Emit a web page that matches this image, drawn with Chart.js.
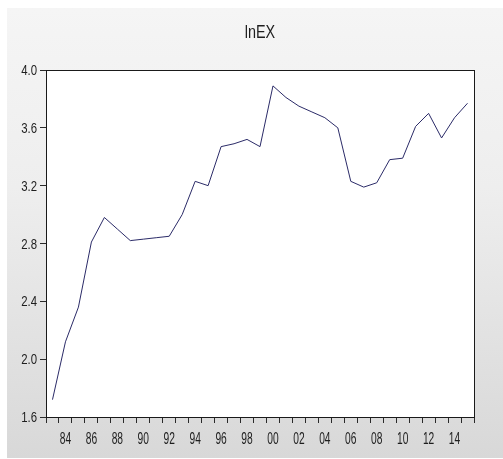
<!DOCTYPE html>
<html>
<head>
<meta charset="utf-8">
<script src="https://cdn.jsdelivr.net/npm/chart.js@4.4.1/dist/chart.umd.min.js"></script>
<style>
  html, body { margin: 0; padding: 0; background: #ffffff; }
  #panel {
    position: absolute; left: 7px; top: 8px; width: 496px; height: 450px;
    background: linear-gradient(to bottom, #f5f5f5 0%, #eeeeee 40%, #d8d8d8 100%);
  }
  #wrap { position: absolute; left: 0; top: 0; width: 503px; height: 459px; }
</style>
</head>
<body>
<div id="panel"></div>
<div id="wrap"><canvas id="c" width="503" height="459"></canvas></div>
<script>
// Annual observations, 1983-2015
const years = [1983,1984,1985,1986,1987,1988,1989,1990,1991,1992,1993,1994,1995,1996,1997,1998,1999,
               2000,2001,2002,2003,2004,2005,2006,2007,2008,2009,2010,2011,2012,2013,2014,2015];
const lnEX = [1.72,2.12,2.36,2.81,2.98,2.90,2.82,2.83,2.84,2.85,3.00,3.23,3.20,3.47,3.49,3.52,3.47,
              3.89,3.81,3.75,3.71,3.67,3.60,3.23,3.19,3.22,3.38,3.39,3.61,3.70,3.53,3.67,3.77];
const yTicks = [1.6, 2.0, 2.4, 2.8, 3.2, 3.6, 4.0];
const titleText = 'lnEX';

const FAMILY = '"Liberation Sans", Arial, sans-serif';
const TEXT_COLOR = '#1e1e1e';

// two-digit year label for even years, blank otherwise
function yearLabel(i) {
  const yr = years[i];
  return yr % 2 === 0 ? String(yr).slice(2) : '';
}

// white plot area, black frame, narrow title and tick labels placed from the scales
const framePlugin = {
  id: 'frame',
  beforeDraw(chart) {
    const { ctx, chartArea: a } = chart;
    ctx.save();
    ctx.fillStyle = '#ffffff';
    ctx.fillRect(a.left, a.top, a.right - a.left, a.bottom - a.top);
    ctx.restore();
  },
  afterDraw(chart) {
    const { ctx, chartArea: a, scales } = chart;
    ctx.save();
    ctx.strokeStyle = '#1a1a1a';
    ctx.lineWidth = 1;
    ctx.strokeRect(Math.round(a.left) + 0.5, Math.round(a.top) + 0.5,
                   Math.round(a.right - a.left), Math.round(a.bottom - a.top));

    ctx.fillStyle = TEXT_COLOR;

    // title
    ctx.font = '18px ' + FAMILY;
    ctx.textAlign = 'center';
    ctx.textBaseline = 'middle';
    const tw = ctx.measureText(titleText).width;
    ctx.fillText(titleText, (a.left + a.right) / 2, 33, tw * 0.8);

    // x tick labels
    ctx.font = '16px ' + FAMILY;
    const xs = scales.x;
    years.forEach((yr, i) => {
      const t = yearLabel(i);
      if (!t) return;
      const w = ctx.measureText(t).width;
      ctx.fillText(t, xs.getPixelForValue(i), 440, w * 0.64);
    });

    // y tick labels
    ctx.font = '15px ' + FAMILY;
    ctx.textAlign = 'right';
    const ys = scales.y;
    yTicks.forEach(v => {
      const t = v.toFixed(1);
      const w = ctx.measureText(t).width;
      ctx.fillText(t, 37, ys.getPixelForValue(v) + 1, w * 0.76);
    });
    ctx.restore();
  }
};

new Chart(document.getElementById('c'), {
  type: 'line',
  data: {
    labels: years,
    datasets: [{
      data: lnEX,
      borderColor: '#2b2b68',
      borderWidth: 1,
      pointRadius: 0,
      tension: 0,
      fill: false
    }]
  },
  options: {
    responsive: false,
    animation: false,
    layout: { padding: { left: 0, right: 29, top: 70, bottom: 0 } },
    plugins: {
      legend: { display: false },
      tooltip: { enabled: false },
      title: { display: false }
    },
    scales: {
      x: {
        type: 'category',
        offset: true,
        grid: { offset: true, drawOnChartArea: false, drawTicks: true, tickLength: 6, color: '#2a2a2a' },
        border: { display: false },
        ticks: { display: false, autoSkip: false },
        afterFit(scale) { scale.height = 42; }
      },
      y: {
        min: yTicks[0],
        max: yTicks[yTicks.length - 1],
        afterBuildTicks(scale) { scale.ticks = yTicks.map(v => ({ value: v })); },
        grid: { drawOnChartArea: false, drawTicks: true, tickLength: 6, color: '#2a2a2a' },
        border: { display: false },
        ticks: { display: false },
        afterFit(scale) { scale.width = 46; }
      }
    }
  },
  plugins: [framePlugin]
});
</script>
</body>
</html>
